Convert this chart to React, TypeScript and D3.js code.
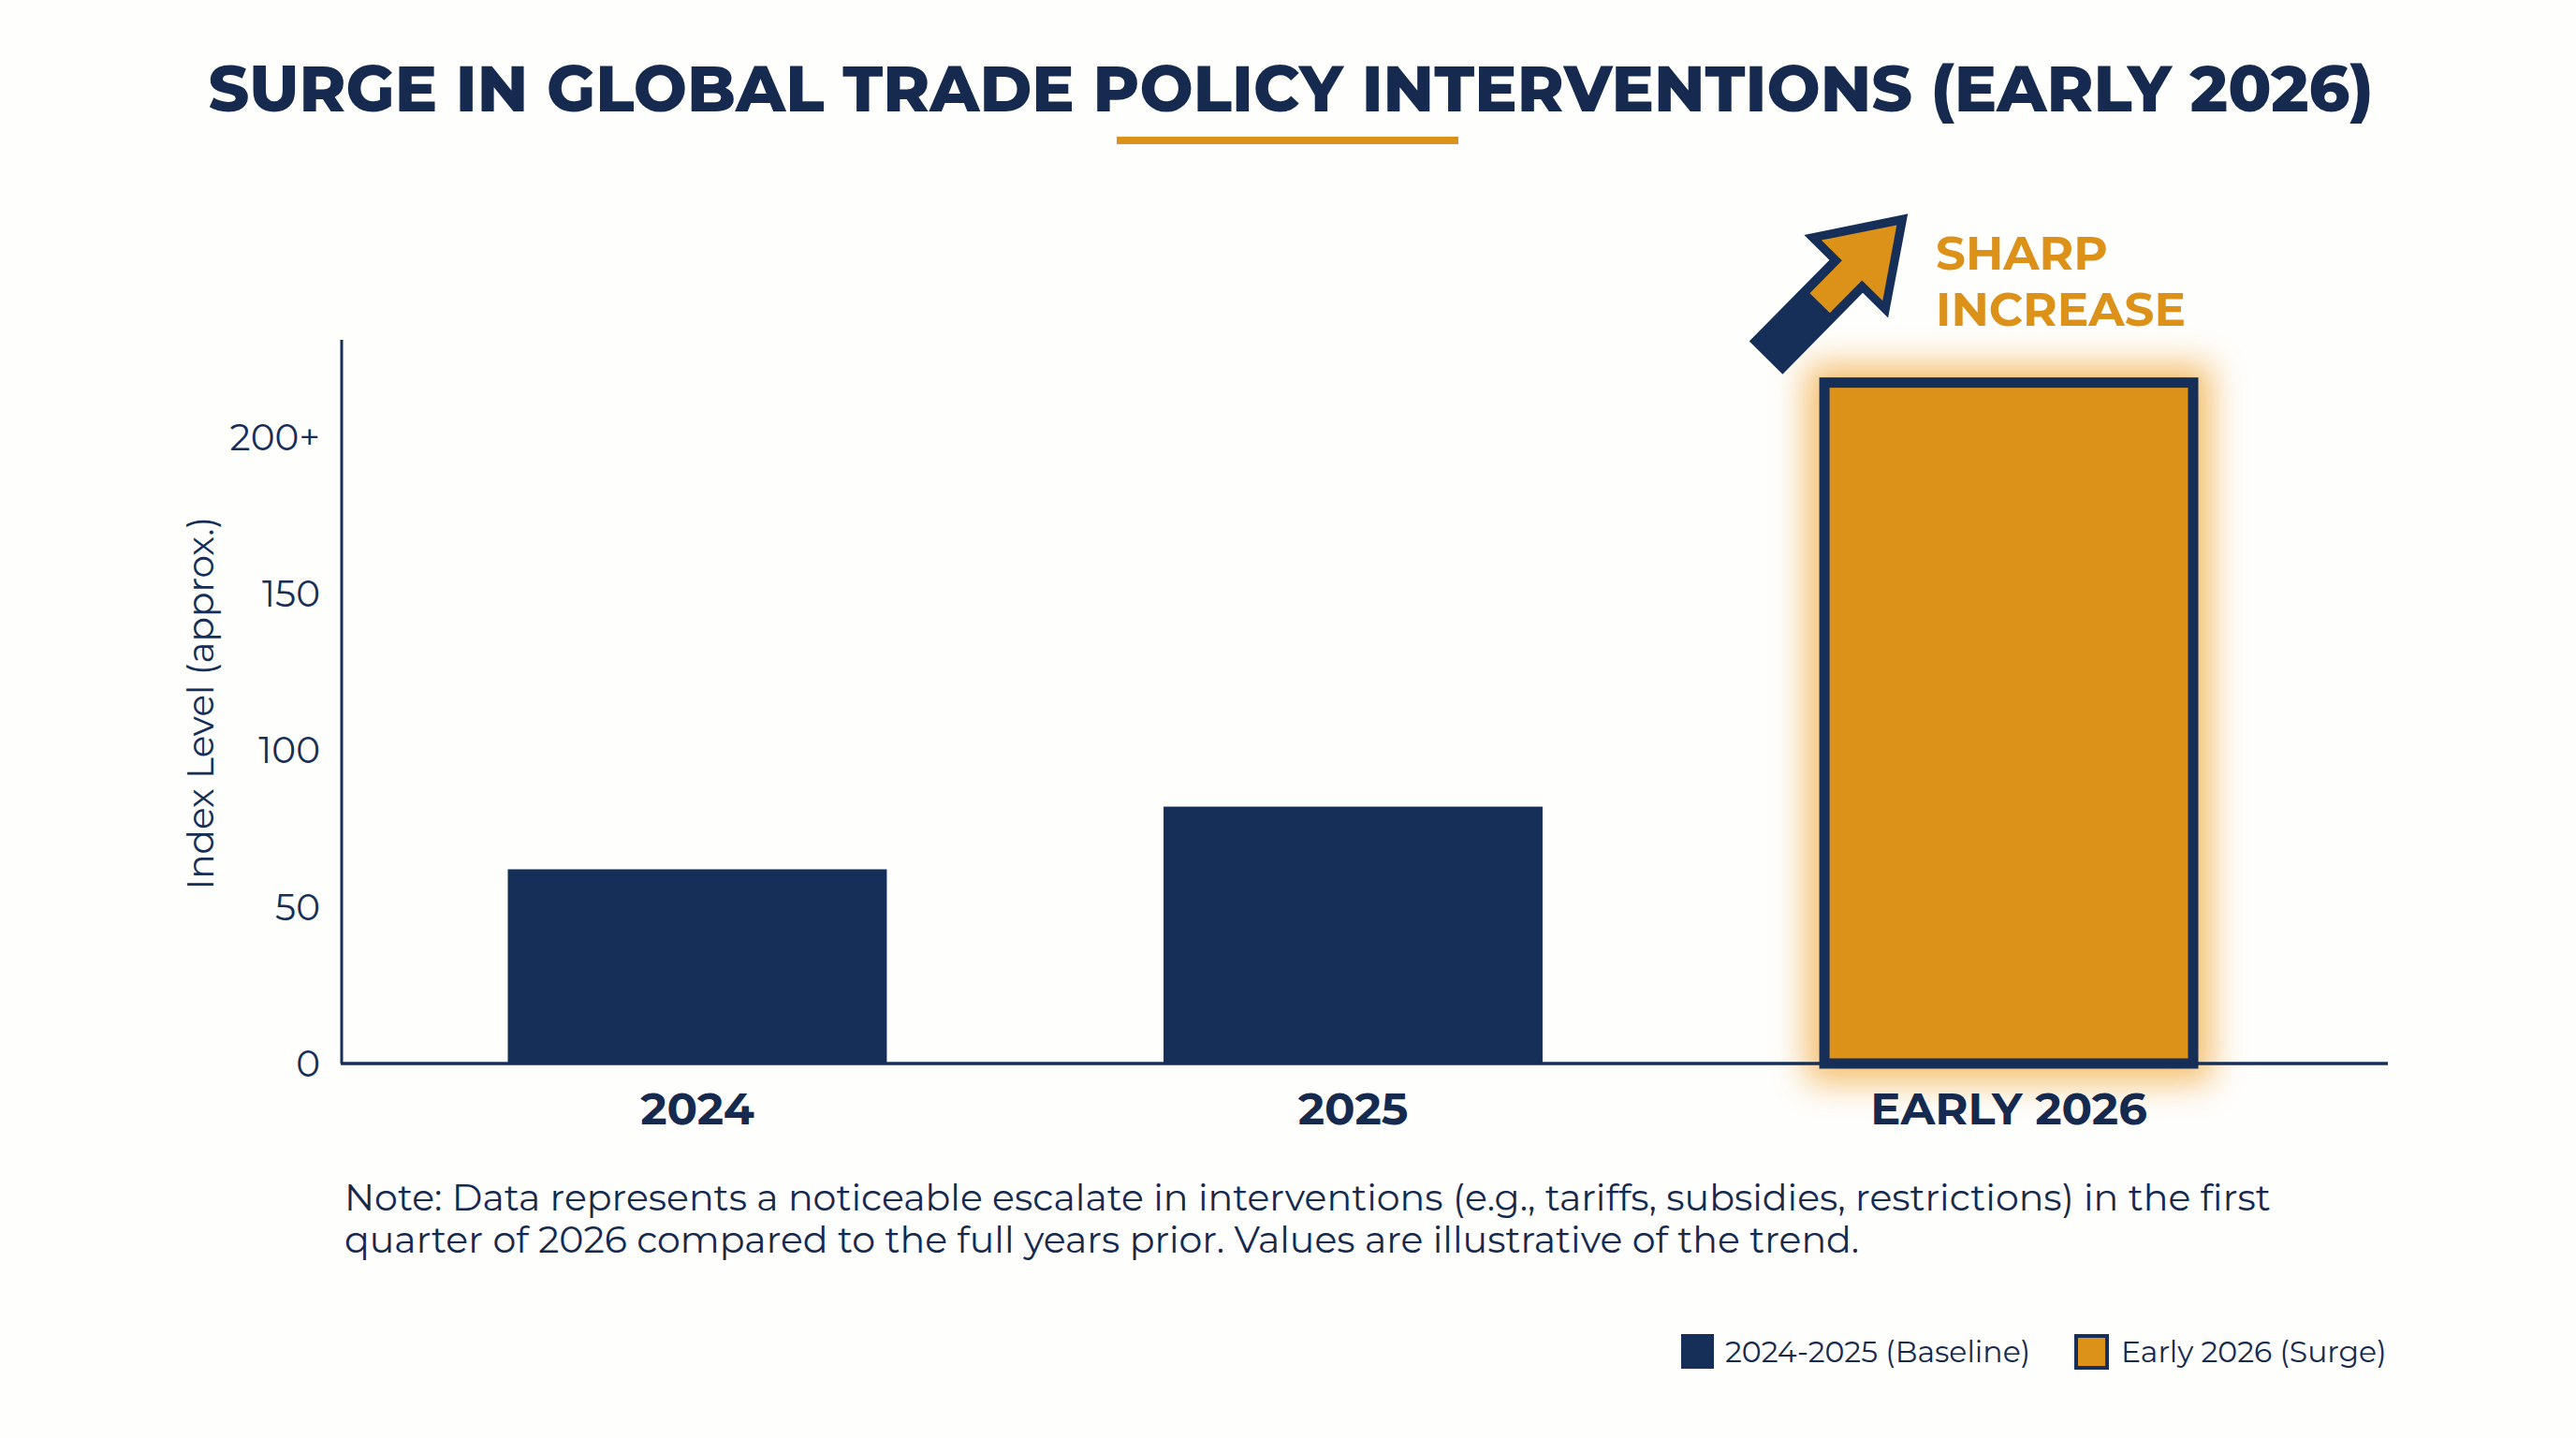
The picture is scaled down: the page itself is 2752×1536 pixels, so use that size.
import React from "react";
import * as d3 from "d3";

const W = 2752;
const H = 1536;

const categories = ["2024", "2025", "EARLY 2026"];
const values = [62, 82, 219];
const highlight = [false, false, true];
const yTicks = [0, 50, 100, 150, 200];
const yTickLabels = ["0", "50", "100", "150", "200+"];
const legendLabels = ["2024-2025 (Baseline)", "Early 2026 (Surge)"];
const noteLines = [
  "Note: Data represents a noticeable escalate in interventions (e.g., tariffs, subsidies, restrictions) in the first",
  "quarter of 2026 compared to the full years prior. Values are illustrative of the trend.",
];

const NAVY = "#162f58";
const TITLE_NAVY = "#152a4e";
const ORANGE = "#dc9119";
const FONT = "Montserrat, Inter, 'Open Sans', sans-serif";

export default function App() {
  const x = d3.scaleBand<string>().domain(categories).range([542.5, 2348.5]).paddingInner(0.422).paddingOuter(0);
  const y = d3.scaleLinear().domain([0, 231]).range([1136, 363]);
  const bw = x.bandwidth();

  // arrow geometry, anchored to the highlighted bar
  const hiIdx = highlight.indexOf(true);
  const bx0 = x(categories[hiIdx])!;
  const btop = y(values[hiIdx]);
  const origin: [number, number] = [bx0 - 57, btop - 21];
  const dir: [number, number] = [0.702, -0.712];
  const nrm: [number, number] = [0.712, 0.702];
  const P = (u: number, v: number) => [origin[0] + u * dir[0] + v * nrm[0], origin[1] + u * dir[1] + v * nrm[1]];
  const poly = (pts: number[][]) => pts.map((p) => P(p[0], p[1]).join(",")).join(" ");
  const outer = poly([[0, -25], [122, -25], [122, -63], [216, 0], [122, 63], [122, 25], [0, 25]]);
  const inner = poly([[82, -15], [131, -15], [131, -46], [199, 0], [131, 46], [131, 15], [82, 15]]);

  return (
    <svg width={W} height={H} viewBox={`0 0 ${W} ${H}`} style={{ position: "absolute", left: 0, top: 0, background: "#ffffff" }}>
      <defs>
        <filter id="glow" x="-50%" y="-50%" width="200%" height="200%">
          <feGaussianBlur stdDeviation="18" />
        </filter>
      </defs>
      <rect width={W} height={H} fill="#fefefd" />

      {/* title */}
      <text x={1379} y={119} textAnchor="middle" fontFamily={FONT} fontWeight={800} fontSize={68} fill={TITLE_NAVY}
        textLength={2313} lengthAdjust="spacingAndGlyphs">
        SURGE IN GLOBAL TRADE POLICY INTERVENTIONS (EARLY 2026)
      </text>
      <rect x={1193} y={146} width={365} height={8} fill={ORANGE} />

      {/* glow */}
      {categories.map((c, i) =>
        highlight[i] ? (
          <rect key={"g" + c} x={x(c)! - 14} y={y(values[i]) - 14} width={bw + 28} height={y(0) - y(values[i]) + 34}
            fill="#f0a83a" opacity={0.75} filter="url(#glow)" />
        ) : null
      )}

      {/* bars */}
      {categories.map((c, i) =>
        highlight[i] ? (
          <rect key={c} x={x(c)! + 5.5} y={y(values[i]) + 5.5} width={bw - 11} height={y(0) - y(values[i]) - 5.5}
            fill={ORANGE} stroke={NAVY} strokeWidth={11} />
        ) : (
          <rect key={c} x={x(c)!} y={y(values[i])} width={bw} height={y(0) - y(values[i])} fill={NAVY} />
        )
      )}

      {/* axes */}
      <line x1={365} x2={365} y1={y(231)} y2={y(0)} stroke={NAVY} strokeWidth={3} />
      <line x1={364} x2={2551} y1={y(0)} y2={y(0)} stroke={NAVY} strokeWidth={3.5} />

      {yTicks.map((t, i) => (
        <text key={t} x={342} y={y(t) + 14} textAnchor="end" fontFamily={FONT} fontSize={39} fill={NAVY}>
          {yTickLabels[i]}
        </text>
      ))}
      <text transform={`translate(228,${y(115)}) rotate(-90)`} textAnchor="middle" fontFamily={FONT} fontSize={39} fill={NAVY}>
        Index Level (approx.)
      </text>

      {categories.map((c) => (
        <text key={"l" + c} x={x(c)! + bw / 2} y={1201} textAnchor="middle" fontFamily={FONT} fontWeight={700} fontSize={48} fill={TITLE_NAVY}>
          {c}
        </text>
      ))}

      {/* arrow + annotation */}
      <polygon points={outer} fill={NAVY} strokeLinejoin="round" />
      <polygon points={inner} fill={ORANGE} />
      <text x={2068} y={288} fontFamily={FONT} fontWeight={700} fontSize={50} fill={ORANGE}>SHARP</text>
      <text x={2068} y={348} fontFamily={FONT} fontWeight={700} fontSize={50} fill={ORANGE}>INCREASE</text>

      {/* note */}
      {noteLines.map((l, i) => (
        <text key={i} x={368} y={1293 + i * 45} fontFamily={FONT} fontSize={39.5} fill={TITLE_NAVY}>
          {l}
        </text>
      ))}

      {/* legend */}
      <rect x={1796} y={1425} width={35} height={37} fill={NAVY} />
      <text x={1843} y={1455} fontFamily={FONT} fontSize={31.5} fill={TITLE_NAVY}>{legendLabels[0]}</text>
      <rect x={2218} y={1427} width={33} height={34} fill={ORANGE} stroke={NAVY} strokeWidth={4} />
      <text x={2266} y={1455} fontFamily={FONT} fontSize={31.5} fill={TITLE_NAVY}>{legendLabels[1]}</text>
    </svg>
  );
}
